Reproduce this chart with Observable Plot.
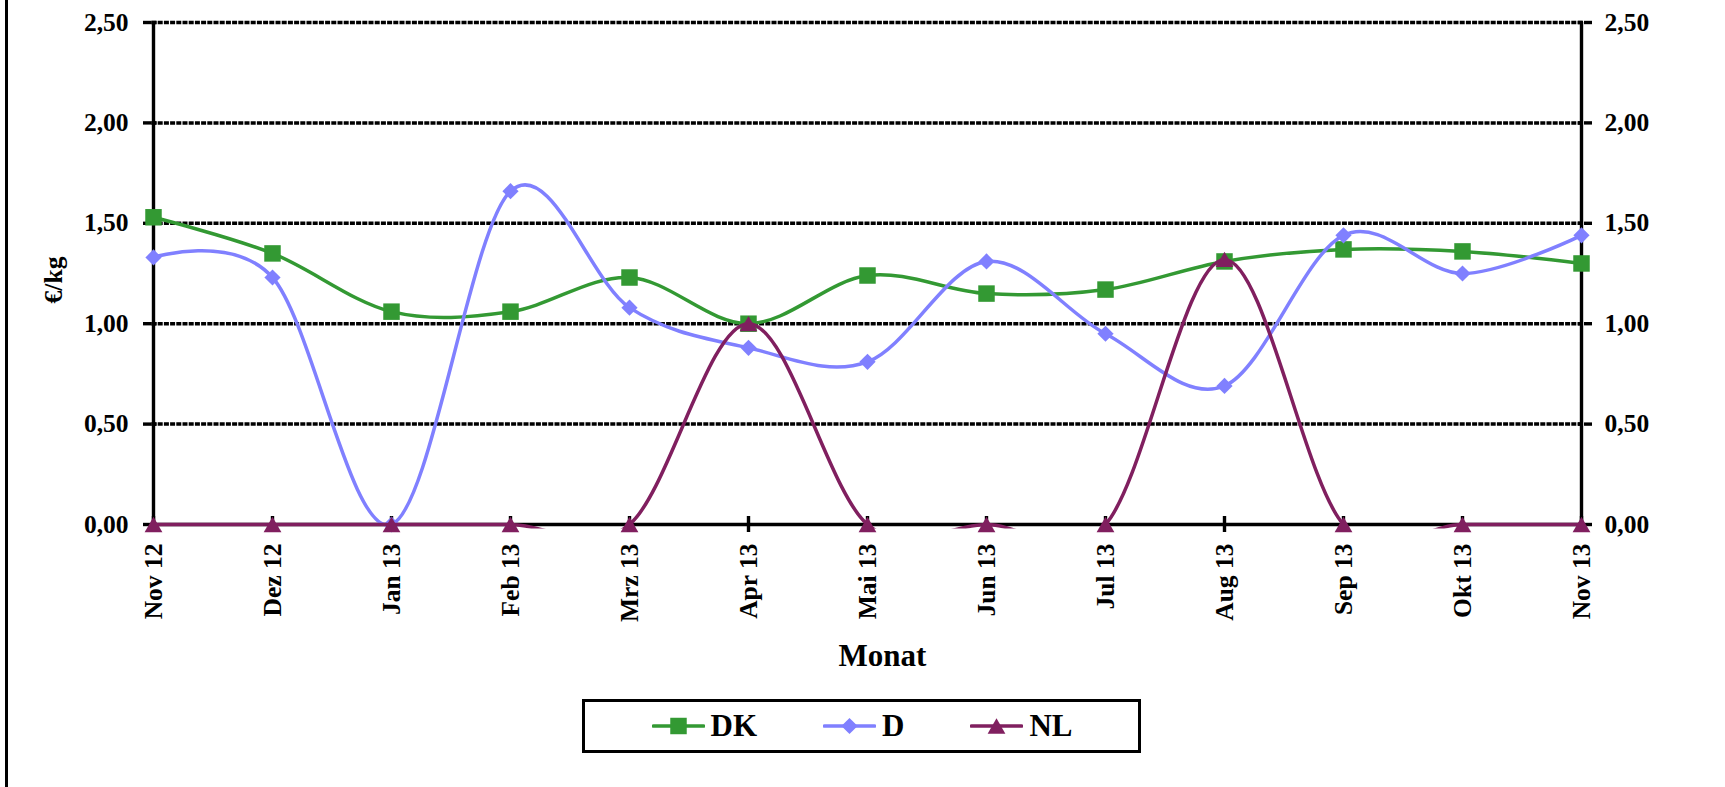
<!DOCTYPE html>
<html>
<head>
<meta charset="utf-8">
<script src="https://cdn.jsdelivr.net/npm/d3@7"></script>
<script src="https://cdn.jsdelivr.net/npm/@observablehq/plot@0.6"></script>
<style>
  html, body { margin: 0; padding: 0; background: #fff; }
  #wrap { position: relative; width: 1725px; height: 787px; overflow: hidden; background: #fff; }
  #border { position: absolute; left: 5px; top: 0; width: 2.5px; height: 787px; background: #000; }
  #legend {
    position: absolute; left: 581.5px; top: 699px; width: 559px; height: 53.5px;
    box-sizing: border-box; border: 3px solid #000; background: #fff;
    display: flex; align-items: center; padding-left: 67px;
    font-family: 'Liberation Serif', 'Times New Roman', serif; font-weight: bold; font-size: 31px; line-height: 1;
  }
  .item { display: flex; align-items: center; margin-right: 66px; }
  .item svg { margin-right: 6px; }
</style>
</head>
<body>
<div id="wrap">
  <div id="chart"></div>
  <div id="border"></div>
  <div id="legend"></div>
</div>
<script>
// ---- data ----
const months = ["Nov 12","Dez 12","Jan 13","Feb 13","Mrz 13","Apr 13","Mai 13","Jun 13","Jul 13","Aug 13","Sep 13","Okt 13","Nov 13"];
const dkValues = [1.53, 1.35, 1.06, 1.06, 1.23, 1.00, 1.24, 1.15, 1.17, 1.31, 1.37, 1.36, 1.30];
const dValues  = [1.33, 1.23, 0.00, 1.66, 1.08, 0.88, 0.81, 1.31, 0.95, 0.69, 1.44, 1.25, 1.44];
const nlValues = [0, 0, 0, 0, 0, 1.00, 0, 0, 0, 1.32, 0, 0, 0];
const seriesNames = ["DK", "D", "NL"];
const yTicks = [0, 0.5, 1.0, 1.5, 2.0, 2.5];
const xTitle = "Monat";
const yTitle = "€/kg";

// ---- styling ----
const W = 1725, H = 787;
const mL = 151.5, mR = 142, mT = 22, mB = 263;
const frameW = W - mL - mR, frameH = H - mT - mB;
const font = "'Liberation Serif', 'Times New Roman', serif";
const styles = {
  DK: {color: "#339933", symbol: "square", r: 9.3, dy: 0},
  D:  {color: "#8080ff", symbol: "diamond2", r: 7.3, dy: 0},
  NL: {color: "#801f5f", symbol: "triangle", r: 6.6, dy: 2.5}
};
const fmt = d => d.toFixed(2).replace(".", ",");

const valuesBySeries = {DK: dkValues, D: dValues, NL: nlValues};
const rows = name => months.map((m, i) => ({month: m, value: valuesBySeries[name][i], series: name}));

const seriesMarks = seriesNames.flatMap(name => {
  const s = styles[name];
  return [
    Plot.line(rows(name), {x: "month", y: "value", curve: "cardinal", stroke: s.color, strokeWidth: 3.5}),
    Plot.dot(rows(name), {x: "month", y: "value", symbol: s.symbol, r: s.r, fill: s.color, stroke: "none", dy: s.dy})
  ];
});

const chart = Plot.plot({
  width: W, height: H,
  marginLeft: mL, marginRight: mR, marginTop: mT, marginBottom: mB,
  style: {fontFamily: font, fontWeight: "bold", color: "black", background: "transparent", overflow: "visible"},
  x: {type: "point", domain: months, padding: 0, label: null},
  y: {domain: [0, 2.5], label: null},
  marks: [
    Plot.ruleY(yTicks.filter(d => d > 0), {y: d => d, stroke: "black", strokeWidth: 3.5, strokeDasharray: "5,1.2"}),
    Plot.ruleY([0], {stroke: "black", strokeWidth: 3.4}),
    Plot.ruleX([months[0], months[months.length - 1]], {x: d => d, stroke: "black", strokeWidth: 3.4}),
    Plot.axisY({anchor: "left", ticks: yTicks, tickFormat: fmt, tickSize: 8.5, tickPadding: 15, strokeWidth: 3.4, fontSize: 25.5, fontWeight: "bold"}),
    Plot.axisY({anchor: "right", ticks: yTicks, tickFormat: fmt, tickSize: 8, tickPadding: 13, strokeWidth: 3.4, fontSize: 25.5, fontWeight: "bold"}),
    Plot.tickY(yTicks, {y: d => d, insetRight: frameW - 5, stroke: "black", strokeWidth: 3.4}),
    Plot.tickY(yTicks, {y: d => d, insetLeft: frameW - 5, stroke: "black", strokeWidth: 3.4}),
    Plot.axisX({anchor: "bottom", tickSize: 8, tickPadding: 11, tickRotate: -90, strokeWidth: 3.4, fontSize: 25.5, fontWeight: "bold"}),
    Plot.tickX(months, {x: d => d, insetTop: frameH - 8, stroke: "black", strokeWidth: 3.4}),
    Plot.text([xTitle], {text: d => d, frameAnchor: "bottom", lineAnchor: "bottom", dx: 14.75, dy: 141.7, fontSize: 31, fontWeight: "bold", fill: "black"}),
    Plot.text([yTitle], {text: d => d, frameAnchor: "left", rotate: -90, textAnchor: "middle", lineAnchor: "middle", dx: -98.5, dy: 6.5, fontSize: 25.5, fontWeight: "bold", fill: "black"}),
    ...seriesMarks
  ]
});

// clip smoothed lines to the plot area (with a small allowance, as in the original)
const svg = d3.select(chart);
const yScale = chart.scale("y");
const yBottom = yScale.apply(0) + 4, yTop = yScale.apply(2.5) - 6;
svg.insert("defs", ":first-child").append("clipPath").attr("id", "plotclip")
  .append("rect").attr("x", 0).attr("y", yTop).attr("width", W).attr("height", yBottom - yTop);
svg.selectAll('g[aria-label="line"]').attr("clip-path", "url(#plotclip)");

document.getElementById("chart").appendChild(chart);

// legend
const symMap = {square: d3.symbolSquare, diamond2: d3.symbolDiamond2, triangle: d3.symbolTriangle};
const legend = d3.select("#legend");
seriesNames.forEach(name => {
  const s = styles[name];
  const item = legend.append("div").attr("class", "item");
  const sv = item.append("svg").attr("width", 53).attr("height", 24);
  sv.append("line").attr("x1", 1.5).attr("x2", 51.5).attr("y1", 12).attr("y2", 12)
    .attr("stroke", s.color).attr("stroke-width", 3.6).attr("stroke-linecap", "round");
  sv.append("path").attr("transform", `translate(26.5,${12 + s.dy})`)
    .attr("d", d3.symbol(symMap[s.symbol], Math.PI * s.r * s.r)()).attr("fill", s.color);
  item.append("span").text(name);
});
</script>
</body>
</html>
